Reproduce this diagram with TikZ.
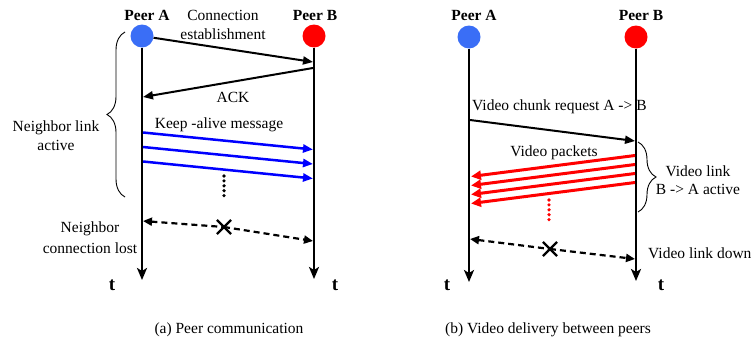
\documentclass[tikz,border=0pt]{standalone}
\usepackage{fontspec}
\setmainfont{Liberation Serif}
\usetikzlibrary{arrows.meta,decorations.pathreplacing,shapes.misc}
\definecolor{peerblue}{RGB}{58,110,246}
\definecolor{kablue}{RGB}{0,0,255}
\begin{document}
\begin{tikzpicture}[x=1pt,y=-1pt,
  font=\fontsize{15.5}{19}\selectfont,
  peerA/.style={circle, fill=peerblue, minimum size=23pt, inner sep=0pt},
  peerB/.style={circle, fill=red, minimum size=23pt, inner sep=0pt},
  life/.style={line width=2.5pt, -{Stealth[length=12pt,width=10pt,inset=3pt]}},
  msg/.style={line width=2pt, -{Triangle[length=10pt,width=8pt]}},
  kamsg/.style={draw=kablue, line width=2.5pt, -{Triangle[length=10pt,width=8pt]}},
  pkt/.style={draw=red, line width=3pt, -{Triangle[length=10pt,width=9pt]}},
  lost/.style={line width=2.2pt, dash pattern=on 6pt off 4pt},
  lostL/.style={lost, {Triangle[length=9pt,width=8pt]}-},
  lostR/.style={lost, -{Triangle[length=9pt,width=8pt]}},
  xmark/.style={cross out, draw, line width=2.2pt, minimum size=12pt, inner sep=0pt},
  lbl/.style={align=center, inner sep=0pt, anchor=base},
  peerlbl/.style={inner sep=0pt, anchor=base, font=\fontsize{15.5}{19}\selectfont\bfseries},
  tlbl/.style={inner sep=0pt, anchor=base, font=\fontsize{19}{22}\selectfont\bfseries},
  dots/.style={line width=3.6pt, line cap=round, dash pattern=on 0pt off 4.9pt},
  bracedec/.style={decorate, decoration={brace, amplitude=18pt}, line width=0.9pt}
]
\useasboundingbox (0,0) rectangle (754,340);

% ---------------- (a) Peer communication ----------------
\node[peerA] (A1) at (142,36) {};
\node[peerB] (B1) at (314,36) {};
\node[peerlbl] (A1lbl) at (147,20) {Peer A};
\node[peerlbl] (B1lbl) at (315,20) {Peer B};
\coordinate (A1end) at (142,280);
\coordinate (B1end) at (314,279);
\draw[life] (A1) -- (A1end);
\draw[life] (B1) -- (B1end);
\node[tlbl] (tA1) at (112,290) {t};
\node[tlbl] (tB1) at (335,290) {t};

\node[lbl] (conn) at (223,39) {Connection\\establishment};
\coordinate (c1) at (313,62);
\draw[msg] (A1) -- (c1);

\coordinate (ack1) at (313,68);
\coordinate (ack2) at (143,97);
\draw[msg] (ack1) -- (ack2);
\node[lbl] (acklbl) at (233,102) {ACK};

\node[lbl] (kalbl) at (219,128) {Keep -alive message};
\foreach \k in {0,1,2} {
  \coordinate (ka\k s) at (143,{132.5+14.5*\k});
  \coordinate (ka\k e) at (313,{149.5+14.5*\k});
  \draw[kamsg] (ka\k s) -- (ka\k e);
}
\draw[dots] (224,176) -- (224,197);

\draw[bracedec] (125,197) -- (125,32);
\node[lbl] (nla) at (56,150) {Neighbor link\\active};

\node[xmark] (X1) at (224,227) {};
\coordinate (d1a) at (143,221);
\coordinate (d1b) at (313,241);
\draw[lostL] (d1a) -- (X1.center);
\draw[lostR] (X1.center) -- (d1b);
\node[lbl] (ncl) at (90,253) {Neighbor\\[2pt]connection lost};

\node[lbl] (capa) at (229,333) {(a) Peer communication};

% ---------------- (b) Video delivery between peers ----------------
\node[peerA] (A2) at (469,37) {};
\node[peerB] (B2) at (636,37) {};
\node[peerlbl] (A2lbl) at (474,20) {Peer A};
\node[peerlbl] (B2lbl) at (641,20) {Peer B};
\coordinate (A2end) at (469,282);
\coordinate (B2end) at (636,281);
\draw[life] (A2) -- (A2end);
\draw[life] (B2) -- (B2end);
\node[tlbl] (tA2) at (447,290) {t};
\node[tlbl] (tB2) at (661,290) {t};

\node[lbl, anchor=base west] (reqlbl) at (472,110) {Video chunk request A -> B};
\coordinate (r1) at (470,120);
\coordinate (r2) at (635,141);
\draw[msg] (r1) -- (r2);

\node[lbl] (vplbl) at (554,156) {Video packets};
\foreach \k in {0,1,2,3} {
  \coordinate (vp\k s) at (635,{155.5+9*\k});
  \coordinate (vp\k e) at (471,{176.5+9*\k});
  \draw[pkt] (vp\k s) -- (vp\k e);
}
\draw[dots, draw=red] (549,200) -- (549,221);

\draw[bracedec] (638,142) -- (638,212);
\node[lbl] (vla) at (698,194) {Video link\\[-1pt]B -> A active};

\node[xmark] (X2) at (550,249) {};
\coordinate (d2a) at (470,239);
\coordinate (d2b) at (635,259);
\draw[lostL] (d2a) -- (X2.center);
\draw[lostR] (X2.center) -- (d2b);
\node[lbl, anchor=base west] (vld) at (648,258) {Video link down};

\node[lbl] (capb) at (548,333) {(b) Video delivery between peers};
\end{tikzpicture}
\end{document}
